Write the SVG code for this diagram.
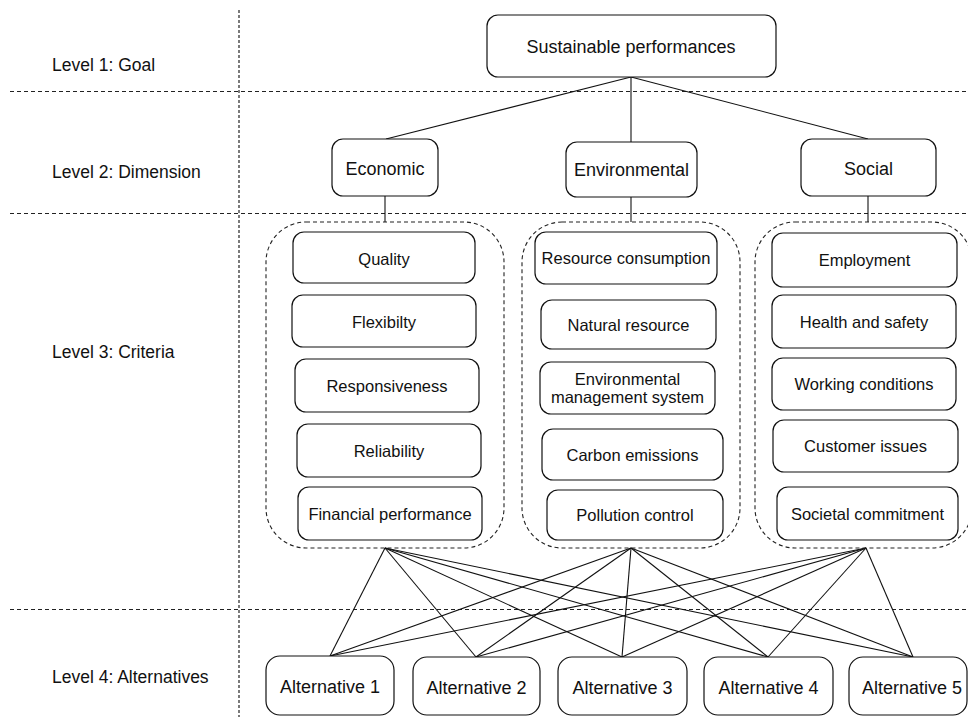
<svg xmlns="http://www.w3.org/2000/svg" width="968" height="717" viewBox="0 0 968 717">
<style>
  .bg { fill: #ffffff; }
  .sep { stroke: #222; stroke-width: 1.2; stroke-dasharray: 4 3; fill: none; }
  .vsep { stroke: #222; stroke-width: 1.2; stroke-dasharray: 3 2; fill: none; }
  .grp { stroke: #222; stroke-width: 1.1; stroke-dasharray: 4 3; fill: none; }
  .box { fill: #ffffff; stroke: #111; stroke-width: 1.2; }
  .ln { stroke: #111; stroke-width: 1.1; fill: none; }
  text { font-family: "Liberation Sans", Arial, sans-serif; fill: #111; }
  .lvl { font-size: 17.5px; }
  .big { font-size: 18px; text-anchor: middle; }
  .crit { font-size: 16.5px; text-anchor: middle; }
  .alt { font-size: 18px; text-anchor: middle; }
</style>
<rect class="bg" x="0" y="0" width="968" height="717"/>

<g id="separators">
  <line class="vsep" x1="239" y1="10" x2="239" y2="717"/>
  <line class="sep" x1="10" y1="91.5" x2="968" y2="91.5"/>
  <line class="sep" x1="10" y1="213.5" x2="968" y2="213.5"/>
  <line class="sep" x1="10" y1="609.5" x2="968" y2="609.5"/>
</g>

<g id="level-labels">
  <text class="lvl" x="52" y="71">Level 1: Goal</text>
  <text class="lvl" x="52" y="178">Level 2: Dimension</text>
  <text class="lvl" x="52" y="358">Level 3: Criteria</text>
  <text class="lvl" x="52" y="683">Level 4: Alternatives</text>
</g>

<g id="connectors">
  <line class="ln" x1="631" y1="77" x2="386" y2="139"/>
  <line class="ln" x1="631" y1="77" x2="631" y2="142"/>
  <line class="ln" x1="631" y1="77" x2="868" y2="139"/>
  <line class="ln" x1="385" y1="196" x2="385" y2="222"/>
  <line class="ln" x1="631" y1="197" x2="631" y2="222"/>
  <line class="ln" x1="868" y1="196" x2="868" y2="222"/>
  <!-- criteria groups to alternatives -->
  <line class="ln" x1="385" y1="548" x2="330" y2="656"/>
  <line class="ln" x1="385" y1="548" x2="476" y2="657"/>
  <line class="ln" x1="385" y1="548" x2="622" y2="657"/>
  <line class="ln" x1="385" y1="548" x2="768" y2="657"/>
  <line class="ln" x1="385" y1="548" x2="913" y2="657"/>
  <line class="ln" x1="631" y1="548" x2="330" y2="656"/>
  <line class="ln" x1="631" y1="548" x2="476" y2="657"/>
  <line class="ln" x1="631" y1="548" x2="622" y2="657"/>
  <line class="ln" x1="631" y1="548" x2="768" y2="657"/>
  <line class="ln" x1="631" y1="548" x2="913" y2="657"/>
  <line class="ln" x1="866" y1="548" x2="330" y2="656"/>
  <line class="ln" x1="866" y1="548" x2="476" y2="657"/>
  <line class="ln" x1="866" y1="548" x2="622" y2="657"/>
  <line class="ln" x1="866" y1="548" x2="768" y2="657"/>
  <line class="ln" x1="866" y1="548" x2="913" y2="657"/>
</g>

<g id="goal">
  <rect class="box" x="487" y="15" width="289" height="62" rx="11"/>
  <text class="big" x="631" y="53">Sustainable performances</text>
</g>

<g id="dim-economic">
  <rect class="box" x="332" y="139" width="106" height="57" rx="11"/>
  <text class="big" x="385" y="175">Economic</text>
</g>
<g id="dim-environmental">
  <rect class="box" x="566" y="142" width="131" height="55" rx="11"/>
  <text class="big" x="631.5" y="176">Environmental</text>
</g>
<g id="dim-social">
  <rect class="box" x="801" y="139" width="135" height="57" rx="11"/>
  <text class="big" x="868.5" y="175">Social</text>
</g>

<g id="group-economic">
  <rect class="grp" x="266" y="222" width="238" height="326" rx="40"/>
</g>
<g id="group-environmental">
  <rect class="grp" x="522" y="222" width="218" height="326" rx="40"/>
</g>
<g id="group-social">
  <rect class="grp" x="755" y="222" width="217" height="326" rx="40"/>
</g>

<g id="c-quality">
  <rect class="box" x="293" y="232" width="182" height="51" rx="11"/>
  <text class="crit" x="384" y="264.5">Quality</text>
</g>
<g id="c-flexibilty">
  <rect class="box" x="292" y="295" width="184" height="52" rx="11"/>
  <text class="crit" x="384" y="328">Flexibilty</text>
</g>
<g id="c-responsiveness">
  <rect class="box" x="295" y="359" width="184" height="53" rx="11"/>
  <text class="crit" x="387" y="392">Responsiveness</text>
</g>
<g id="c-reliability">
  <rect class="box" x="297" y="424" width="184" height="53" rx="11"/>
  <text class="crit" x="389" y="457">Reliability</text>
</g>
<g id="c-financial">
  <rect class="box" x="298" y="487" width="184" height="53" rx="11"/>
  <text class="crit" x="390" y="520">Financial performance</text>
</g>

<g id="c-resource">
  <rect class="box" x="535" y="232" width="182" height="52" rx="11"/>
  <text class="crit" x="626" y="264">Resource consumption</text>
</g>
<g id="c-natural">
  <rect class="box" x="541" y="300" width="175" height="49" rx="11"/>
  <text class="crit" x="628.5" y="331">Natural resource</text>
</g>
<g id="c-ems">
  <rect class="box" x="540" y="362" width="175" height="52" rx="11"/>
  <text class="crit" x="627.5" y="385">Environmental</text>
  <text class="crit" x="627.5" y="403">management system</text>
</g>
<g id="c-carbon">
  <rect class="box" x="542" y="429" width="181" height="51" rx="11"/>
  <text class="crit" x="632.5" y="461">Carbon emissions</text>
</g>
<g id="c-pollution">
  <rect class="box" x="547" y="490" width="176" height="50" rx="11"/>
  <text class="crit" x="635" y="521">Pollution control</text>
</g>

<g id="c-employment">
  <rect class="box" x="772" y="233" width="185" height="54" rx="11"/>
  <text class="crit" x="864.5" y="266">Employment</text>
</g>
<g id="c-health">
  <rect class="box" x="772" y="295" width="184" height="53" rx="11"/>
  <text class="crit" x="864" y="328">Health and safety</text>
</g>
<g id="c-working">
  <rect class="box" x="772" y="358" width="184" height="52" rx="11"/>
  <text class="crit" x="864" y="390">Working conditions</text>
</g>
<g id="c-customer">
  <rect class="box" x="773" y="420" width="185" height="52" rx="11"/>
  <text class="crit" x="865.5" y="452">Customer issues</text>
</g>
<g id="c-societal">
  <rect class="box" x="777" y="487" width="181" height="53" rx="11"/>
  <text class="crit" x="867.5" y="520">Societal commitment</text>
</g>

<g id="alt-1">
  <rect class="box" x="266" y="656" width="128" height="59" rx="14"/>
  <text class="alt" x="330" y="693">Alternative 1</text>
</g>
<g id="alt-2">
  <rect class="box" x="413" y="657" width="127" height="58" rx="14"/>
  <text class="alt" x="476.5" y="694">Alternative 2</text>
</g>
<g id="alt-3">
  <rect class="box" x="558" y="657" width="129" height="58" rx="14"/>
  <text class="alt" x="622.5" y="694">Alternative 3</text>
</g>
<g id="alt-4">
  <rect class="box" x="704" y="657" width="129" height="58" rx="14"/>
  <text class="alt" x="768.5" y="694">Alternative 4</text>
</g>
<g id="alt-5">
  <rect class="box" x="849" y="657" width="118" height="58" rx="14"/>
  <text class="alt" x="912" y="694">Alternative 5</text>
</g>
</svg>
